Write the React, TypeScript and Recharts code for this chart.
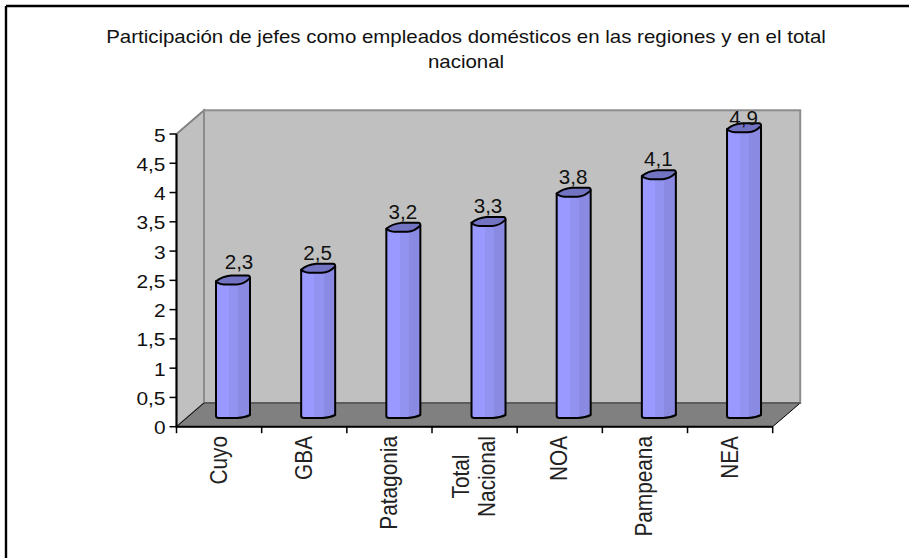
import React from 'react';
import { BarChart, Bar, XAxis, YAxis, LabelList } from 'recharts';

const categories = ['Cuyo', 'GBA', 'Patagonia', 'Total Nacional', 'NOA', 'Pampeana', 'NEA'];
const values = [2.3, 2.5, 3.2, 3.3, 3.8, 4.1, 4.9];
const yTicks = [0, 0.5, 1, 1.5, 2, 2.5, 3, 3.5, 4, 4.5, 5];
const titleLines = [
  'Participación de jefes como empleados domésticos en las regiones y en el total',
  'nacional',
];

const data = categories.map((name, i) => ({ name, value: values[i] }));

const W = 909;
const H = 558;
// plot area of the front plane
const LEFT = 176.5;
const RIGHT = 772.7;
const TOP = 134;
const BOTTOM = 426.7;
// depth of the fake 3d box
const DEPTH_X = 27.5;
const DEPTH_Y = 23.7;
// bars stand in the middle of the floor
const BAR_DX = 13.5;
const BAR_DY = -10.7;
const BAND = (RIGHT - LEFT) / categories.length;
const FONT = '"Liberation Sans", Arial, sans-serif';

const comma = (v: number) => String(v).replace('.', ',');

function Walls() {
  const backL = LEFT + DEPTH_X;
  const backR = RIGHT + DEPTH_X;
  const backT = TOP - DEPTH_Y;
  const backB = BOTTOM - DEPTH_Y;
  return (
    <g>
      <defs>
        <linearGradient id="cyl" x1="0" y1="0" x2="1" y2="0">
          <stop offset="0" stopColor="#9999ff" />
          <stop offset="0.39" stopColor="#9999ff" />
          <stop offset="0.39" stopColor="#9292f0" />
          <stop offset="0.66" stopColor="#9292f0" />
          <stop offset="0.66" stopColor="#8a8ae2" />
          <stop offset="1" stopColor="#8a8ae2" />
        </linearGradient>
      </defs>
      <polygon
        points={`${LEFT},${TOP} ${backL},${backT} ${backL},${backB} ${LEFT},${BOTTOM}`}
        fill="#c0c0c0"
        stroke="#808080"
        strokeWidth={1.8}
      />
      <rect x={backL} y={backT} width={backR - backL} height={backB - backT} fill="#c0c0c0" stroke="#8c8c8c" strokeWidth={2} />
      <polygon
        points={`${LEFT},${BOTTOM} ${backL},${backB} ${backR},${backB} ${RIGHT},${BOTTOM}`}
        fill="#808080"
        stroke="#000"
        strokeWidth={1}
      />
      <line x1={backL} x2={backR} y1={backB} y2={backB} stroke="#666" strokeWidth={1.5} />
    </g>
  );
}

function Cylinder(props: any) {
  const { x, y, width, height } = props;
  const x0 = x + BAR_DX;
  const x1 = x0 + width;
  const t = y + BAR_DY;
  const base = y + height + BAR_DY;
  const body = `M${x0},${t} L${x0},${base} Q${x0},${base + 2} ${x0 + 3},${base + 2} L${x0 + 21},${base + 2} Q${x1 - 5},${base + 1.5} ${x1},${base - 1} L${x1},${t - 3} Z`;
  const cap = `M${x0},${t} Q${x0 + 6},${t - 5} ${x0 + 15},${t - 5.8} L${x1 - 2},${t - 5.8} Q${x1},${t - 5.8} ${x1},${t - 3.2} Q${x1 - 6},${t + 2.8} ${x1 - 13},${t + 3.2} L${x0 + 8},${t + 3.2} Q${x0 + 2},${t + 2.5} ${x0},${t} Z`;
  return (
    <g>
      <path d={body} fill="url(#cyl)" stroke="#000" strokeWidth={2} strokeLinejoin="round" />
      <path d={cap} fill="#7373c4" stroke="#000" strokeWidth={2} strokeLinejoin="round" />
    </g>
  );
}

function ValueLabel(props: any) {
  const { x, y, width, value, index } = props;
  // first label sits up and to the right, the last one is held down against the wall top
  const nudgeX = index === 0 ? 6 : -0.5;
  const gap = index === 0 ? 12.4 : 10;
  const baseline = Math.max(y + BAR_DY - gap, 125);
  return (
    <text
      transform={`translate(${x + width / 2 + BAR_DX + nudgeX},${baseline}) scale(1.03,1)`}
      textAnchor="middle"
      fontFamily={FONT}
      fontSize={20}
      fill="#111"
    >
      {comma(value)}
    </text>
  );
}

function YTick(props: any) {
  const { y, payload } = props;
  return (
    <text
      transform={`translate(${LEFT - 11},${y + 7.5}) scale(1.13,1)`}
      textAnchor="end"
      fontFamily={FONT}
      fontSize={18.5}
      fill="#111"
    >
      {comma(payload.value)}
    </text>
  );
}

function XTick(props: any) {
  const { x, payload, index } = props;
  const lines = String(payload.value).split(' ');
  const tickY = BOTTOM;
  const startY = 436;
  const isLast = index === categories.length - 1;
  return (
    <g>
      <line x1={x - BAND / 2} x2={x - BAND / 2} y1={tickY} y2={tickY + 6.5} stroke="#000" strokeWidth={1.5} />
      {isLast && <line x1={x + BAND / 2} x2={x + BAND / 2} y1={tickY} y2={tickY + 6.5} stroke="#000" strokeWidth={1.5} />}
      {lines.map((line, i) => {
        const tx = x + 7.5 + (i - (lines.length - 1) / 2) * 26;
        return (
          <text
            key={line}
            transform={`translate(${tx},${lines.length > 1 ? startY + 40.5 : startY}) rotate(-90) scale(1,1.12)`}
            textAnchor={lines.length > 1 ? 'middle' : 'end'}
            fontFamily={FONT}
            fontSize={20.8}
            fill="#222"
          >
            {line}
          </text>
        );
      })}
    </g>
  );
}

export default function App() {
  return (
    <div style={{ position: 'absolute', left: 0, top: 0, width: W, height: H, background: '#fff', overflow: 'hidden' }}>
      <BarChart
        width={W}
        height={H}
        data={data}
        margin={{ top: TOP, left: LEFT - 60, right: W - RIGHT, bottom: H - BOTTOM - 100 }}
      >
        <line x1={6} y1={6} x2={W} y2={6} stroke="#000" strokeWidth={2.4} />
        <line x1={6} y1={6} x2={6} y2={H} stroke="#000" strokeWidth={2.4} />
        {titleLines.map((line, i) => (
          <text
            key={line}
            transform={`translate(466,${42.5 + i * 25.5}) scale(1.1,1)`}
            textAnchor="middle"
            fontFamily={FONT}
            fontSize={18.6}
            fill="#111"
          >
            {line}
          </text>
        ))}
        <Walls />
        <XAxis
          dataKey="name"
          height={100}
          interval={0}
          tickLine={false}
          axisLine={{ stroke: '#000', strokeWidth: 2 }}
          tick={<XTick />}
        />
        <YAxis
          width={60}
          domain={[0, 5]}
          ticks={yTicks}
          interval={0}
          axisLine={{ stroke: '#000', strokeWidth: 2 }}
          tickLine={{ stroke: '#000', strokeWidth: 1.5 }}
          tickSize={7}
          tick={<YTick />}
        />
        <Bar dataKey="value" barSize={34} shape={<Cylinder />} isAnimationActive={false}>
          <LabelList dataKey="value" content={<ValueLabel />} />
        </Bar>
      </BarChart>
    </div>
  );
}
